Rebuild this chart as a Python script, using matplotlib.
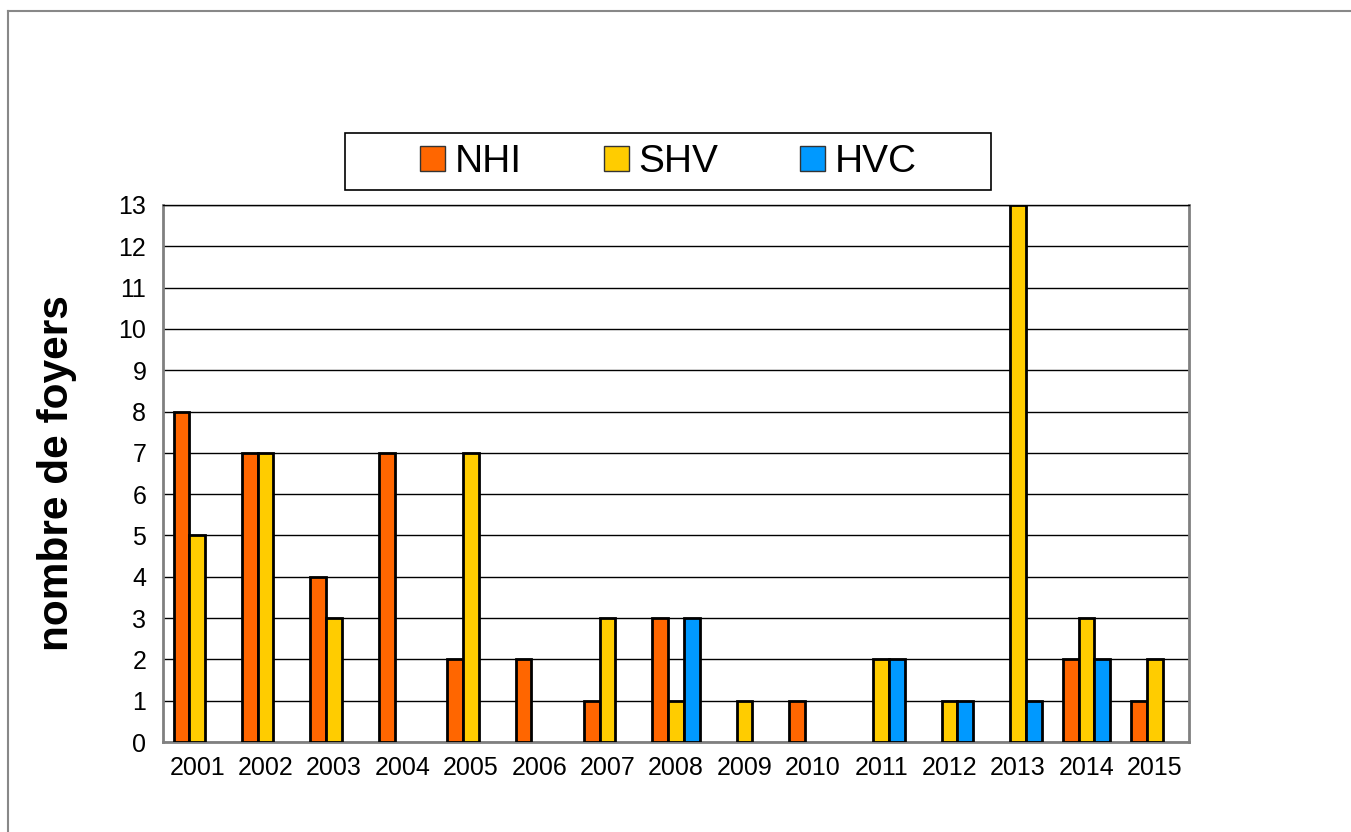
import matplotlib.pyplot as plt
import numpy as np
from matplotlib.lines import Line2D
from matplotlib.patches import Rectangle

plt.rcParams['font.family'] = ['Liberation Sans', 'DejaVu Sans']

years = ['2001', '2002', '2003', '2004', '2005', '2006', '2007', '2008',
         '2009', '2010', '2011', '2012', '2013', '2014', '2015']
nhi = [8, 7, 4, 7, 2, 2, 1, 3, 0, 1, 0, 0, 0, 2, 1]
shv = [5, 7, 3, 0, 7, 0, 3, 1, 1, 0, 2, 1, 13, 3, 2]
hvc = [0, 0, 0, 0, 0, 0, 0, 3, 0, 0, 2, 1, 1, 2, 0]

series = [('NHI', nhi, '#FF6600'), ('SHV', shv, '#FFCC00'), ('HVC', hvc, '#0099FF')]

W, H = 1351, 832
fig = plt.figure(figsize=(W / 100, H / 100), dpi=100)
ax = fig.add_axes([163 / W, 1 - 742 / H, (1189 - 163) / W, (742 - 205) / H])

x = np.arange(len(years))
w = 0.23
for i, (name, vals, col) in enumerate(series):
    vals = np.array(vals)
    mask = vals > 0
    ax.bar(x[mask] + (i - 1) * w, vals[mask], width=w, color=col,
           edgecolor='black', linewidth=2, zorder=3)

ax.set_xlim(-0.5, len(years) - 0.5)
ax.set_ylim(0, 13)
ax.set_yticks(range(0, 14))
ax.set_xticks(x)
ax.set_xticklabels(years)
ax.tick_params(axis='both', length=0, labelsize=18)
ax.tick_params(axis='x', pad=10)
ax.tick_params(axis='y', pad=12)
ax.yaxis.grid(True, color='black', linewidth=1)
ax.set_axisbelow(True)
for s in ['left', 'right', 'bottom']:
    ax.spines[s].set_color('#808080')
    ax.spines[s].set_linewidth(2)
ax.spines['top'].set_color('black')
ax.spines['top'].set_linewidth(1)

ax.set_ylabel('nombre de foyers', fontsize=30.5, fontweight='bold', labelpad=30)

# legend box drawn separately so its padding can match the original
fig.add_artist(Rectangle((345 / W, 1 - 190 / H), (991 - 345) / W, (190 - 133) / H,
                         transform=fig.transFigure, facecolor='white',
                         edgecolor='black', linewidth=1.2))
handles = [Line2D([], [], marker='s', linestyle='', markersize=18,
                  markerfacecolor=c, markeredgecolor='#333333', markeredgewidth=1)
           for _, _, c in series]
fig.legend(handles, [n for n, _, _ in series], ncol=3,
           loc='center', bbox_to_anchor=(668 / W, 1 - 162 / H),
           fontsize=28, frameon=False,
           handlelength=0.65, handletextpad=0.25, columnspacing=2.1,
           borderpad=0, borderaxespad=0)

# frame lines at top and left of the image
fig.add_artist(Line2D([8 / W, 1], [1 - 11 / H, 1 - 11 / H], color='#888888', lw=1.5))
fig.add_artist(Line2D([8 / W, 8 / W], [0, 1 - 11 / H], color='#888888', lw=1.5))

fig.savefig('out.png', dpi=100)
